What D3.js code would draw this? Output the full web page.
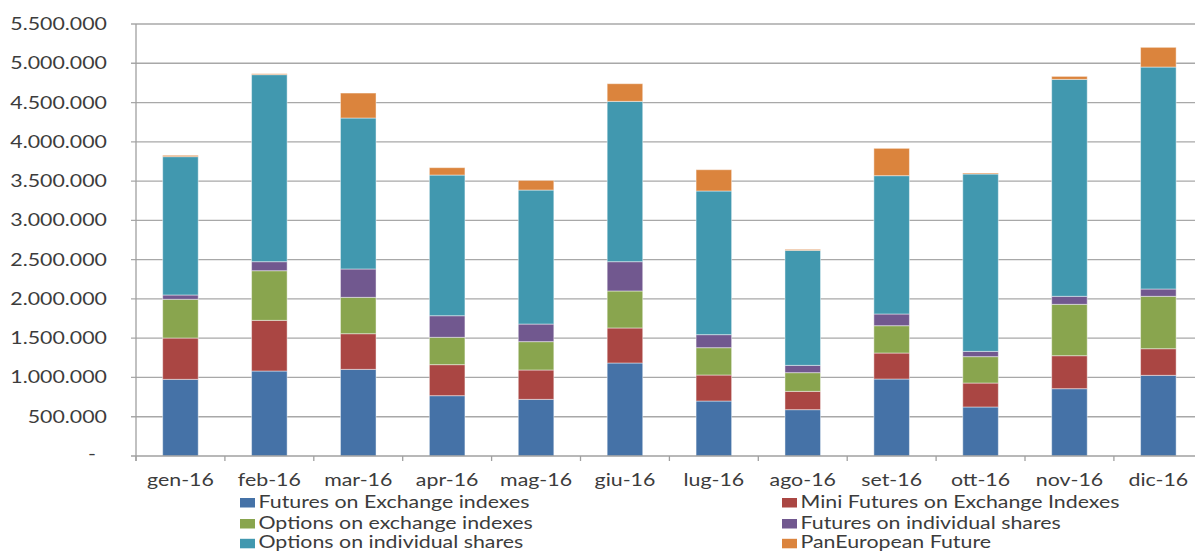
<!DOCTYPE html>
<html>
<head>
<meta charset="utf-8">
<script src="https://cdn.jsdelivr.net/npm/d3@7"></script>
<style>
  html, body { margin: 0; padding: 0; background: #fff; }
  svg { display: block; }
  text { font-family: Lato, "Open Sans", "Liberation Sans", sans-serif; fill: #3c3c3c; }
</style>
</head>
<body>
<svg id="chart" width="1195" height="552"></svg>
<script>
// Monthly traded contracts, 2016, stacked by product
const months = ["gen-16", "feb-16", "mar-16", "apr-16", "mag-16", "giu-16",
                "lug-16", "ago-16", "set-16", "ott-16", "nov-16", "dic-16"];

const futuresIndexes      = [976000, 1082000, 1103000, 768000, 721000, 1184000, 700000, 590000, 980000, 624000, 857000, 1027000];
const miniFuturesIndexes  = [526000, 645000, 454000, 395000, 374000, 446000, 331000, 233000, 331000, 305000, 420000, 339000];
const optionsIndexes      = [493000, 632000, 463000, 348000, 361000, 471000, 348000, 238000, 348000, 336000, 654000, 667000];
const futuresShares       = [55000, 115000, 361000, 275000, 224000, 373000, 166000, 93000, 149000, 67000, 102000, 93000];
const optionsShares       = [1761000, 2381000, 1922000, 1791000, 1706000, 2041000, 1829000, 1464000, 1761000, 2258000, 2762000, 2826000];
const panEuropeanFuture   = [17000, 12000, 318000, 94000, 123000, 225000, 271000, 13000, 348000, 13000, 38000, 251000];

const seriesNames = ["Futures on Exchange indexes", "Mini Futures on Exchange Indexes",
                     "Options on exchange indexes", "Futures on individual shares",
                     "Options on individual shares", "PanEuropean Future"];
const seriesValues = [futuresIndexes, miniFuturesIndexes, optionsIndexes,
                      futuresShares, optionsShares, panEuropeanFuture];
const seriesColors = ["#4572A7", "#AA4643", "#89A54E", "#71588F", "#4198AF", "#DB843D"];

const yTicks = [0, 500000, 1000000, 1500000, 2000000, 2500000, 3000000,
                3500000, 4000000, 4500000, 5000000, 5500000];

const svg = d3.select("#chart");
const FONT = 16.7;

// horizontal stretch factor for all text, set from the two first legend entries
const probe = svg.append("text").attr("font-size", FONT);
probe.text(seriesNames[0]);
const w1 = probe.node().getComputedTextLength();
probe.text(seriesNames[1]);
const w2 = probe.node().getComputedTextLength();
probe.remove();
const K = (281 + 309) / (w1 + w2);

function label(g, px, py, txt, anchor) {
  return g.append("text")
    .attr("transform", `translate(${px},${py}) scale(${K},1)`)
    .attr("text-anchor", anchor || "start")
    .attr("font-size", FONT)
    .text(txt);
}

const plotLeft = 136, plotTop = 24, plotBottom = 456;
const step = 88.9;
const x = d3.scaleBand().domain(months)
  .range([plotLeft, plotLeft + step * months.length])
  .paddingInner(0.6).paddingOuter(0.3);
const y = d3.scaleLinear().domain([0, 5500000]).range([plotBottom, plotTop]);

const locale = d3.formatLocale({ decimal: ",", thousands: ".", grouping: [3], currency: ["", ""] });
const fmt = locale.format(",d");

// gridlines
const grid = svg.append("g");
grid.selectAll("line").data(yTicks.filter(d => d > 0)).join("line")
  .attr("x1", plotLeft - 5).attr("x2", 1195)
  .attr("y1", d => y(d)).attr("y2", d => y(d))
  .attr("stroke", "#a8a8a8").attr("stroke-width", 1.3);

// y tick labels
const yl = svg.append("g");
yTicks.forEach(t => {
  if (t === 0) label(yl, 96, y(t) + 4, "-", "end");
  else label(yl, 107, y(t) + 6, fmt(t), "end");
});

// stacked bars
const rows = months.map((m, i) => {
  const r = { month: m };
  seriesNames.forEach((s, j) => r[s] = seriesValues[j][i]);
  return r;
});
const stack = d3.stack().keys(seriesNames)(rows);

svg.append("g").selectAll("g").data(stack).join("g")
  .attr("fill", (d, i) => seriesColors[i])
  .selectAll("rect").data(d => d).join("rect")
  .attr("x", d => x(d.data.month))
  .attr("width", x.bandwidth())
  .attr("y", d => y(d[1]))
  .attr("height", d => y(d[0]) - y(d[1]))
  .attr("stroke", "rgba(255,255,255,0.45)")
  .attr("stroke-width", 1);

// axis lines
svg.append("line").attr("x1", plotLeft).attr("x2", plotLeft).attr("y1", plotTop).attr("y2", plotBottom + 5)
  .attr("stroke", "#a0a0a0").attr("stroke-width", 1.3);
svg.append("line").attr("x1", plotLeft - 5).attr("x2", 1195).attr("y1", plotBottom).attr("y2", plotBottom)
  .attr("stroke", "#a0a0a0").attr("stroke-width", 1.3);

// x ticks at band boundaries
svg.append("g").selectAll("line").data(months).join("line")
  .attr("x1", d => x(d) - x.step() * 0.3).attr("x2", d => x(d) - x.step() * 0.3)
  .attr("y1", plotBottom).attr("y2", plotBottom + 5)
  .attr("stroke", "#a0a0a0").attr("stroke-width", 1.3);

// x labels
const xl = svg.append("g");
months.forEach(m => label(xl, x(m) + x.bandwidth() / 2, 486, m, "middle"));

// legend, two columns
const lg = svg.append("g");
const colX = [240, 782];
const rowY = [507.5, 528.5, 548.3];
seriesNames.forEach((s, i) => {
  const cx = colX[i % 2], cy = rowY[Math.floor(i / 2)];
  lg.append("rect").attr("x", cx).attr("y", cy - 9.5).attr("width", 15).attr("height", 9.5)
    .attr("fill", seriesColors[i]);
  label(lg, cx + 18.5, cy, s, "start");
});
</script>
</body>
</html>
